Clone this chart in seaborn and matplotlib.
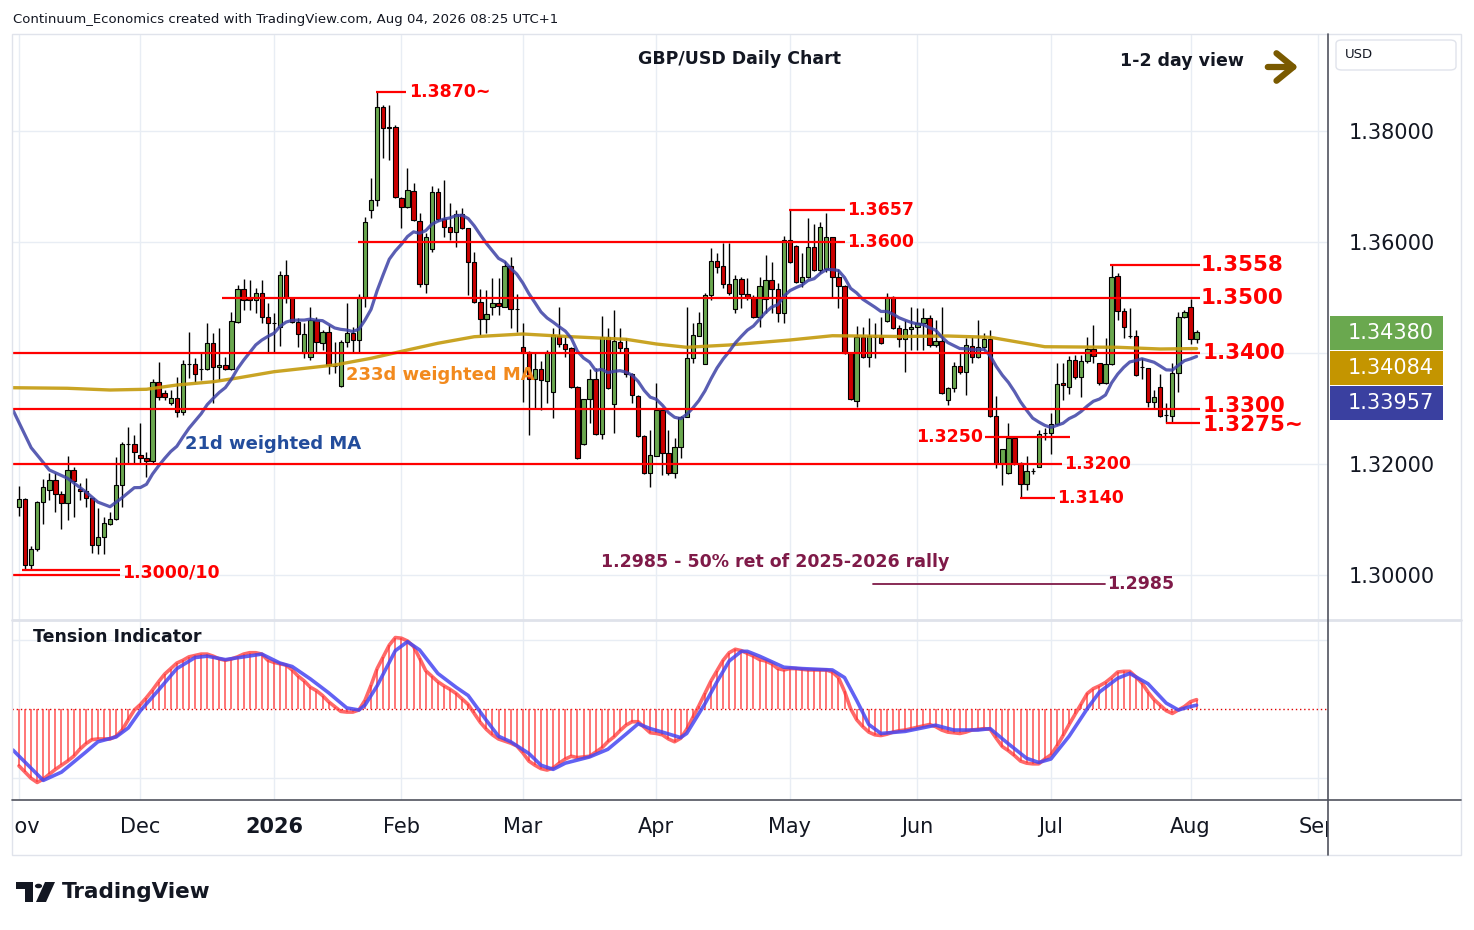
"""
GBP/USD daily candles with 21d / 233d weighted MAs and the tension indicator,
laid out like the TradingView export (1474 x 930 px).
"""

import numpy as np
import pandas as pd
import matplotlib
matplotlib.use("Agg")
import matplotlib.pyplot as plt
from matplotlib.patches import Rectangle, FancyArrowPatch, FancyBboxPatch, Polygon, Circle
from matplotlib.lines import Line2D
from matplotlib.transforms import Bbox
import seaborn as sns

# ---------------- data ----------------
# daily bars Nov 3 2025 .. Aug 4 2026, prices in 1e-4 units
opens_pips = [
    13123, 13137, 13018, 13047, 13133, 13154, 13172, 13146, 13130, 13190,
    13156, 13152, 13139, 13055, 13069, 13093, 13101, 13162, 13236, 13236,
    13216, 13211, 13206, 13349, 13328, 13311, 13319, 13294, 13381, 13381,
    13372, 13372, 13418, 13375, 13379, 13372, 13457, 13515, 13499, 13496,
    13508, 13465, 13455, 13448, 13540, 13499, 13456, 13401, 13393, 13460,
    13419, 13438, 13377, 13341, 13421, 13436, 13424, 13502, 13658, 13676,
    13843, 13805, 13808, 13679, 13663, 13692, 13638, 13525, 13587, 13690,
    13641, 13627, 13619, 13650, 13625, 13564, 13492, 13461, 13483, 13490,
    13484, 13557, 13479, 13411, 13403, 13353, 13371, 13350, 13331, 13431,
    13416, 13409, 13340, 13236, 13317, 13353, 13254, 13429, 13308, 13421,
    13409, 13362, 13323, 13251, 13184, 13215, 13298, 13221, 13184, 13231,
    13286, 13391, 13431, 13381, 13504, 13566, 13557, 13524, 13479, 13534,
    13506, 13501, 13465, 13497, 13532, 13515, 13473, 13604, 13593, 13529,
    13537, 13591, 13550, 13551, 13609, 13538, 13521, 13400, 13314, 13430,
    13393, 13430, 13429, 13458, 13502, 13445, 13425, 13443, 13448, 13454,
    13463, 13414, 13422, 13316, 13337, 13377, 13366, 13413, 13393, 13411,
    13425, 13287, 13202, 13184, 13247, 13202, 13164, 13188, 13196, 13256,
    13256, 13272, 13346, 13339, 13388, 13357, 13386, 13408, 13382, 13347,
    13380, 13539, 13476, 13431, 13431, 13375, 13373, 13312, 13339, 13288,
    13287, 13364, 13465, 13484, 13425,
]
highs_pips = [
    13161, 13140, 13053, 13134, 13174, 13184, 13184, 13152, 13215, 13195,
    13166, 13175, 13140, 13121, 13106, 13115, 13214, 13241, 13268, 13253,
    13274, 13223, 13353, 13384, 13334, 13334, 13358, 13388, 13439, 13391,
    13400, 13454, 13436, 13445, 13394, 13475, 13523, 13533, 13532, 13517,
    13531, 13490, 13472, 13548, 13568, 13500, 13463, 13454, 13484, 13466,
    13442, 13451, 13421, 13423, 13490, 13448, 13507, 13646, 13715, 13870,
    13847, 13847, 13810, 13682, 13733, 13706, 13653, 13616, 13701, 13697,
    13711, 13670, 13658, 13661, 13626, 13582, 13515, 13514, 13535, 13535,
    13566, 13574, 13506, 13454, 13404, 13401, 13386, 13406, 13445, 13483,
    13429, 13412, 13341, 13318, 13371, 13373, 13467, 13445, 13478, 13446,
    13427, 13364, 13324, 13252, 13262, 13346, 13299, 13262, 13247, 13287,
    13484, 13455, 13475, 13508, 13589, 13580, 13598, 13599, 13541, 13538,
    13536, 13505, 13538, 13577, 13565, 13526, 13611, 13657, 13594, 13580,
    13643, 13633, 13637, 13652, 13610, 13551, 13522, 13402, 13449, 13447,
    13463, 13454, 13465, 13508, 13503, 13451, 13460, 13484, 13481, 13481,
    13469, 13459, 13483, 13339, 13385, 13400, 13427, 13429, 13460, 13436,
    13442, 13323, 13228, 13274, 13248, 13205, 13215, 13193, 13262, 13265,
    13292, 13382, 13382, 13395, 13397, 13397, 13429, 13451, 13383, 13427,
    13558, 13544, 13481, 13481, 13442, 13391, 13374, 13334, 13363, 13310,
    13383, 13475, 13478, 13497, 13441,
]
lows_pips = [
    13107, 13012, 13010, 13044, 13093, 13135, 13115, 13083, 13100, 13106,
    13136, 13124, 13041, 13039, 13039, 13091, 13100, 13124, 13202, 13202,
    13202, 13178, 13202, 13316, 13315, 13307, 13286, 13289, 13355, 13349,
    13351, 13370, 13310, 13352, 13370, 13370, 13454, 13478, 13478, 13472,
    13454, 13403, 13400, 13413, 13490, 13454, 13412, 13391, 13388, 13400,
    13406, 13362, 13364, 13339, 13412, 13400, 13400, 13483, 13643, 13665,
    13751, 13748, 13679, 13625, 13661, 13638, 13519, 13509, 13583, 13638,
    13610, 13604, 13592, 13623, 13505, 13490, 13433, 13436, 13469, 13469,
    13483, 13445, 13439, 13313, 13252, 13301, 13297, 13311, 13283, 13412,
    13394, 13338, 13209, 13235, 13274, 13252, 13245, 13335, 13256, 13403,
    13358, 13310, 13250, 13182, 13159, 13215, 13181, 13181, 13175, 13211,
    13285, 13382, 13431, 13380, 13496, 13544, 13517, 13505, 13473, 13481,
    13496, 13463, 13448, 13472, 13473, 13457, 13454, 13563, 13527, 13520,
    13535, 13548, 13544, 13547, 13501, 13481, 13399, 13316, 13303, 13391,
    13376, 13391, 13417, 13457, 13443, 13412, 13367, 13406, 13406, 13406,
    13412, 13412, 13326, 13306, 13331, 13363, 13324, 13383, 13391, 13406,
    13286, 13193, 13163, 13183, 13199, 13140, 13154, 13183, 13195, 13244,
    13219, 13271, 13316, 13327, 13354, 13322, 13383, 13382, 13343, 13345,
    13379, 13459, 13427, 13427, 13359, 13353, 13303, 13301, 13285, 13275,
    13277, 13331, 13463, 13417, 13419,
]
closes_pips = [
    13137, 13018, 13047, 13133, 13160, 13172, 13146, 13130, 13190, 13170,
    13152, 13139, 13055, 13069, 13094, 13101, 13162, 13236, 13236, 13222,
    13211, 13206, 13349, 13322, 13322, 13319, 13294, 13380, 13381, 13362,
    13372, 13418, 13375, 13379, 13372, 13458, 13515, 13496, 13496, 13508,
    13465, 13454, 13455, 13540, 13499, 13456, 13434, 13434, 13460, 13421,
    13438, 13378, 13377, 13421, 13436, 13424, 13502, 13637, 13676, 13843,
    13805, 13808, 13682, 13663, 13693, 13640, 13525, 13609, 13690, 13641,
    13627, 13619, 13650, 13625, 13564, 13492, 13461, 13470, 13490, 13485,
    13557, 13479, 13479, 13403, 13353, 13371, 13351, 13402, 13432, 13416,
    13408, 13340, 13211, 13317, 13353, 13254, 13429, 13337, 13422, 13409,
    13362, 13324, 13251, 13184, 13216, 13298, 13220, 13184, 13231, 13286,
    13391, 13432, 13454, 13504, 13566, 13556, 13524, 13509, 13534, 13506,
    13501, 13465, 13521, 13532, 13515, 13473, 13604, 13565, 13529, 13537,
    13591, 13550, 13627, 13609, 13538, 13521, 13400, 13317, 13430, 13393,
    13431, 13430, 13418, 13502, 13446, 13425, 13444, 13447, 13454, 13463,
    13414, 13422, 13328, 13338, 13377, 13366, 13414, 13393, 13411, 13425,
    13287, 13202, 13227, 13247, 13202, 13164, 13188, 13188, 13254, 13256,
    13272, 13344, 13343, 13388, 13357, 13386, 13408, 13395, 13346, 13380,
    13538, 13476, 13447, 13431, 13361, 13375, 13312, 13321, 13287, 13288,
    13364, 13465, 13474, 13425, 13438,
]

# 21d weighted MA before a full 21-bar window exists
ma21_head_bars = [-1, 2, 5, 8, 11, 13, 15, 17, 19]
ma21_head = [1.32978, 1.32300, 1.31898, 1.31749, 1.31505, 1.31320, 1.31237, 1.31400, 1.31580]

# 233d weighted MA (history too short to compute)
ma233_bars = [-1, 8, 15, 21, 26, 32, 36, 42, 52, 58, 64, 69, 75, 83, 91, 100,
              105, 110, 117, 127, 134, 145, 153, 160, 169, 181, 188, 194]
ma233 = [1.33379, 1.33369, 1.33338, 1.33351, 1.33428, 1.33487, 1.33554, 1.33667,
         1.33788, 1.33909, 1.34058, 1.34179, 1.34297, 1.34346, 1.34297, 1.34251,
         1.34166, 1.34107, 1.34148, 1.34238, 1.34315, 1.34301, 1.34310, 1.34287,
         1.34117, 1.34107, 1.34076, 1.34084]

# tension indicator, one value per bar (gridlines = +/-100)
tension = [
    -82, -91, -100, -106, -101, -94, -87, -81, -75, -68,
    -58, -50, -44, -43, -43, -43, -39, -30, -15, -1,
    7, 17, 28, 40, 51, 59, 67, 71, 76, 78,
    80, 80, 77, 73, 71, 73, 76, 80, 82, 82,
    80, 71, 68, 66, 64, 57, 48, 41, 32, 27,
    20, 11, 4, -3, -4, -4, -1, 13, 35, 59,
    76, 93, 104, 103, 99, 91, 74, 56, 48, 40,
    34, 29, 23, 15, 7, -6, -19, -29, -37, -43,
    -46, -49, -53, -63, -75, -81, -86, -88, -85, -78,
    -72, -68, -70, -69, -68, -62, -56, -47, -40, -31,
    -23, -18, -18, -26, -34, -35, -37, -43, -47, -42,
    -29, -12, 5, 23, 41, 56, 71, 82, 87, 85,
    81, 77, 72, 70, 66, 59, 57, 59, 59, 58,
    57, 57, 57, 57, 54, 46, 26, 1, -15, -25,
    -33, -37, -38, -36, -33, -31, -30, -28, -26, -24,
    -22, -25, -30, -33, -34, -35, -33, -30, -29, -28,
    -29, -42, -54, -60, -67, -75, -78, -79, -79, -72,
    -66, -53, -38, -22, -7, 8, 23, 30, 34, 39,
    46, 54, 55, 55, 47, 38, 25, 14, 6, -2,
    -6, -1, 4, 11, 14,
]
# signal line of the tension indicator
signal_bars = [-1, 4, 7, 11, 13, 16, 18, 20, 23, 26, 29, 31, 34, 37, 40, 43, 45, 48,
               51, 54, 56, 57, 59, 62, 64, 66, 69, 72, 74, 77, 79, 81, 84, 86, 88,
               90, 94, 97, 100, 102, 104, 106, 109, 110, 113, 115, 117, 119, 120,
               122, 126, 129, 134, 136, 138, 140, 142, 146, 151, 154, 158, 160,
               163, 166, 168, 170, 173, 176, 178, 181, 183, 186, 189, 191, 193, 194]
signal = [-59, -103, -91, -62, -47, -40, -27, -2, 28, 59, 75, 77, 72, 76, 80, 67, 62, 44,
          24, 2, -1, 6, 34, 85, 98, 86, 52, 32, 20, -16, -39, -47, -64, -81, -87,
          -78, -69, -58, -36, -21, -28, -33, -41, -35, 8, 40, 70, 84, 84,
          77, 61, 59, 57, 46, 13, -22, -35, -32, -23, -30, -30, -28,
          -50, -71, -77, -72, -39, 1, 25, 45, 52, 37, 9, -1, 4, 6]

month_names = ['Nov', 'Dec', '2026', 'Feb', 'Mar', 'Apr', 'May', 'Jun', 'Jul', 'Aug', 'Sep']
right_ticks = [1.30, 1.32, 1.34, 1.36, 1.38]
right_tick_labels = ['1.30000', '1.32000', '', '1.36000', '1.38000']

last_close = 1.34380
last_ma233 = 1.34084
last_ma21 = 1.33957

# ---------------- derived series ----------------
o = np.array(opens_pips) / 1e4
h = np.array(highs_pips) / 1e4
l = np.array(lows_pips) / 1e4
c = np.array(closes_pips) / 1e4
idx = np.arange(len(c))

dates = pd.bdate_range('2025-11-03', '2026-08-04')
dates = dates[~dates.isin(pd.to_datetime(['2025-12-25', '2026-01-01']))]
pos = pd.Series(np.arange(len(dates)), index=dates)
month_pos = list(pos.groupby([dates.year, dates.month]).first().values)
month_pos.append(month_pos[-1] + len(pd.bdate_range('2026-08-01', '2026-08-31')))

wts = np.arange(1, 22)
wma21 = pd.Series(c).rolling(21).apply(lambda a: np.dot(a, wts) / wts.sum(), raw=True)
df21 = pd.DataFrame({'bar': ma21_head_bars + list(idx[20:]),
                     'val': ma21_head + list(wma21.values[20:])})
df233 = pd.DataFrame({'bar': ma233_bars, 'val': ma233})

# ---------------- figure ----------------
sns.set_theme(style='white')
plt.rcParams['font.family'] = ['DejaVu Sans']

W, H = 1474, 930
fig = plt.figure(figsize=(W / 100, H / 100), dpi=100)
fig.patch.set_facecolor('white')


def fx(px):
    return px / W


def fy(py):
    return 1 - py / H


ax = fig.add_axes([fx(12), fy(620), fx(1328) - fx(12), fy(35) - fy(620)])
axi = fig.add_axes([fx(12), fy(800), fx(1328) - fx(12), fy(620) - fy(800)], sharex=ax)

x0 = (12 - 19) / 6.07
x1 = (1328 - 19) / 6.07
GRID = '#e8edf4'
GREEN = '#6aa84f'
RED = '#cc0000'
LINE_RED = '#ff0000'
MAROON = '#7f1a48'

for a in (ax, axi):
    for s in a.spines.values():
        s.set_visible(False)
    a.set_facecolor('white')

ax.set_xlim(x0, x1)
ax.set_ylim(1.29198, 1.39728)
ax.set_yticks(right_ticks)
ax.set_yticklabels(right_tick_labels)
ax.yaxis.tick_right()
ax.tick_params(axis='y', length=0, pad=15, labelsize=15, colors='#131722')
ax.tick_params(axis='x', length=0, labelbottom=False)
ax.set_xticks(month_pos)
ax.grid(True, color=GRID, lw=1)
ax.set_axisbelow(True)

# candles
up = c >= o
ax.vlines(idx, l, h, color='black', lw=1, zorder=3)
ax.bar(idx, np.abs(c - o), bottom=np.minimum(o, c), width=0.72,
       color=np.where(up, GREEN, RED), edgecolor='black', linewidth=0.8, zorder=4)

# moving averages
sns.lineplot(data=df233, x='bar', y='val', ax=ax, color='#c49a0c', lw=2.4, alpha=0.9, zorder=5)
sns.lineplot(data=df21, x='bar', y='val', ax=ax, color='#3d42a6', lw=2.3, alpha=0.85, zorder=5)
ax.set_xlabel('')
ax.set_ylabel('')


def b(px):
    return (px - 19) / 6.07


# support / resistance lines
levels = [
    (1.3870, 376, 406), (1.3657, 789, 845), (1.3600, 358, 845), (1.3558, 1110, 1200),
    (1.3500, 222, 1200), (1.3400, 12, 1200), (1.3300, 12, 1200), (1.3275, 1166, 1200),
    (1.3250, 985, 1070), (1.3200, 12, 1062), (1.3140, 1020, 1055),
    (1.3010, 22, 120), (1.3000, 12, 120),
]
for lev, xa, xb in levels:
    ax.plot([b(xa), b(xb)], [lev, lev], color=LINE_RED, lw=1.6, zorder=6, solid_capstyle='butt')
ax.plot([b(873), b(1105)], [1.2985, 1.2985], color=MAROON, lw=1.3, zorder=6)

small = dict(color=LINE_RED, fontsize=12.5, fontweight='bold', va='center', zorder=7)
big = dict(color=LINE_RED, fontsize=15.5, fontweight='bold', va='center', zorder=7)
ax.text(b(409), 1.3870, '1.3870~', **small)
ax.text(b(847), 1.3657, '1.3657', **small)
ax.text(b(847), 1.3600, '1.3600', **small)
ax.text(b(1201), 1.3558, '1.3558', **big)
ax.text(b(1201), 1.3500, '1.3500', **big)
ax.text(b(1203), 1.3400, '1.3400', **big)
ax.text(b(1203), 1.3305, '1.3300', **big)
ax.text(b(1203), 1.3270, '1.3275~', **big)
ax.text(b(983), 1.3250, '1.3250', ha='right', **small)
ax.text(b(1064), 1.3200, '1.3200', **small)
ax.text(b(1057), 1.3140, '1.3140', **small)
ax.text(b(122), 1.3005, '1.3000/10', **small)
ax.text(b(1107), 1.2985, '1.2985', color=MAROON, fontsize=12.5, fontweight='bold', va='center')
ax.text(b(775), 1.3024, '1.2985 - 50% ret of 2025-2026 rally', color=MAROON,
        fontsize=12.5, fontweight='bold', ha='center', va='center')
ax.text(b(346), 1.33608, '233d weighted MA', color='#f28a1e', fontsize=13,
        fontweight='bold', va='center', zorder=7)
ax.text(b(185), 1.32366, '21d weighted MA', color='#234d9c', fontsize=13,
        fontweight='bold', va='center', zorder=7)

# ---------------- tension indicator ----------------
axi.set_ylim(-131.4, 129.4)
axi.set_yticks([-100, 100])
axi.tick_params(axis='y', length=0, labelleft=False, labelright=False)
axi.set_xticks(month_pos)
axi.set_xticklabels(month_names)
axi.tick_params(axis='x', length=0, pad=12, labelsize=15, colors='#131722')
axi.get_xticklabels()[2].set_fontweight('bold')
# month labels are cut at the panel edges, like the original
clip = Bbox.from_extents(12, 0, 1328, H)
for t in axi.get_xticklabels():
    t.set_clip_box(clip)
    t.set_clip_on(True)
axi.grid(True, color=GRID, lw=1)
axi.set_axisbelow(True)

axi.vlines(idx, 0, tension, color='#ff3a3a', lw=1.3, alpha=0.75, zorder=2)
sns.lineplot(x=idx, y=tension, ax=axi, color='#ff3535', lw=2.6, alpha=0.75, zorder=3)
sns.lineplot(x=signal_bars, y=signal, ax=axi, color='#4646f2', lw=2.6, alpha=0.85, zorder=4)
axi.axhline(0, color='#e00000', lw=1, ls=(0, (1, 2)), zorder=1)
axi.set_xlabel('')
axi.set_ylabel('')
axi.text(0.016, 0.905, 'Tension Indicator', transform=axi.transAxes, fontsize=12.5,
         fontweight='bold', color='#131722', va='center')

# ---------------- frame, separators, header ----------------
def fig_line(xa, ya, xb, yb, color, lw):
    fig.add_artist(Line2D([fx(xa), fx(xb)], [fy(ya), fy(yb)], color=color, lw=lw,
                          transform=fig.transFigure))


fig.add_artist(Rectangle((fx(12), fy(855)), fx(1461) - fx(12), fy(34) - fy(855),
                         fill=False, edgecolor='#e0e3eb', lw=1, transform=fig.transFigure))
fig_line(12, 620, 1461, 620, '#dfe2ea', 2)
fig_line(1328, 34, 1328, 855, '#50535e', 1.2)
fig_line(12, 800, 1461, 800, '#50535e', 1.2)

fig.text(fx(13), fy(19), 'Continuum_Economics created with TradingView.com, Aug 04, 2026 08:25 UTC+1',
         fontsize=9.5, color='#131722', va='center')
fig.text(fx(739), fy(59), 'GBP/USD Daily Chart', fontsize=12.5, fontweight='bold',
         ha='center', va='center', color='#131722')
fig.text(fx(1120), fy(61), '1-2 day view', fontsize=12.5, fontweight='bold',
         va='center', color='#131722')
fig.add_artist(FancyArrowPatch((fx(1265), fy(67)), (fx(1301), fy(67)), transform=fig.transFigure,
                               arrowstyle='->,head_length=0.55,head_width=0.45',
                               color='#7a5a00', lw=4.5, mutation_scale=22))

# USD box
fig.add_artist(FancyBboxPatch((fx(1336), fy(70)), fx(1456) - fx(1336), fy(40) - fy(70),
                              boxstyle='round,pad=0,rounding_size=0.004', fill=False,
                              edgecolor='#e0e3eb', lw=1, transform=fig.transFigure))
fig.text(fx(1345), fy(55), 'USD', fontsize=9.5, color='#131722', va='center')

# last value badges
for val, col, ytop in [(last_close, '#6aa84f', 316), (last_ma233, '#c49500', 351),
                       (last_ma21, '#3a40a0', 386)]:
    fig.add_artist(Rectangle((fx(1330), fy(ytop + 34)), fx(1443) - fx(1330), fy(ytop) - fy(ytop + 34),
                             facecolor=col, edgecolor='none', transform=fig.transFigure))
    fig.text(fx(1348), fy(ytop + 17), f'{val:.5f}', fontsize=15, color='white', va='center')

# TradingView logo
fig.add_artist(Polygon([(fx(16), fy(882)), (fx(33), fy(882)), (fx(33), fy(902)), (fx(25), fy(902)),
                        (fx(25), fy(889)), (fx(16), fy(889))], closed=True, facecolor='#131722',
                       edgecolor='none', transform=fig.transFigure))
fig.add_artist(Circle((fx(38.5), fy(886)), 3.6 / W, facecolor='#131722', edgecolor='none',
                      transform=fig.transFigure))
fig.add_artist(Polygon([(fx(45), fy(882)), (fx(55), fy(882)), (fx(46), fy(902)), (fx(36), fy(902))],
                       closed=True, facecolor='#131722', edgecolor='none', transform=fig.transFigure))
fig.text(fx(62), fy(892), 'TradingView', fontsize=15.5, fontweight='bold', color='#131722',
         va='center')

fig.savefig('out.png', dpi=100)
